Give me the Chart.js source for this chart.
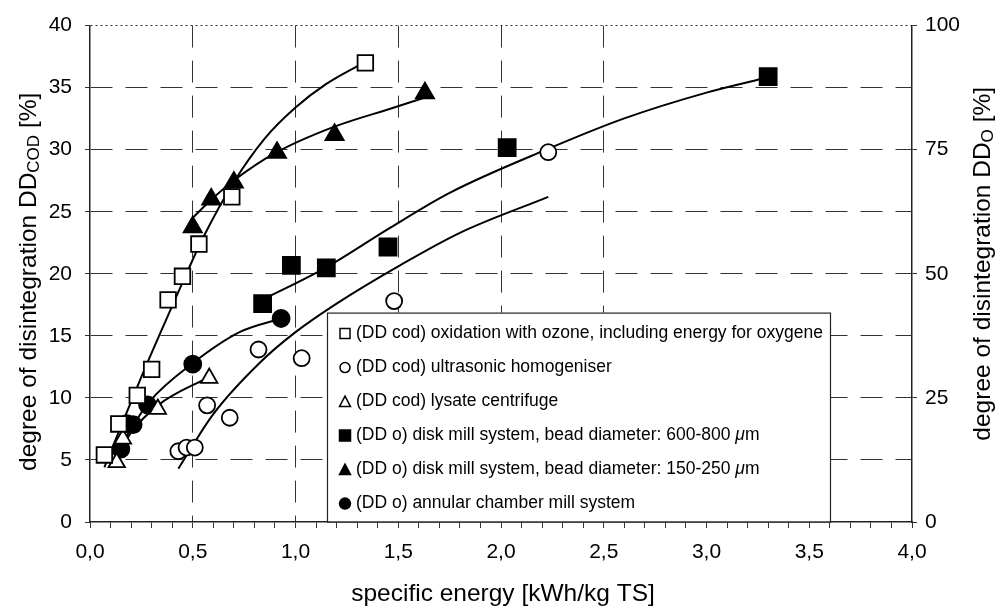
<!DOCTYPE html>
<html>
<head>
<meta charset="utf-8">
<script src="https://cdn.jsdelivr.net/npm/chart.js@4.4.1/dist/chart.umd.min.js"></script>
<style>
  html, body { margin: 0; padding: 0; background: #fff; }
  #wrap { width: 1003px; height: 608px; }
</style>
</head>
<body>
<div id="wrap"><canvas id="chart" width="1003" height="608"></canvas></div>
<script>
// measured points, DD cod series on the left axis [%]
const ozoneX  = [0.07, 0.14, 0.23, 0.30, 0.38, 0.45, 0.53, 0.69, 1.34];
const ozoneY  = [5.4, 7.9, 10.2, 12.3, 17.9, 19.8, 22.4, 26.2, 37.0];
const ultraX  = [0.43, 0.47, 0.51, 0.57, 0.68, 0.82, 1.03, 1.48, 2.23];
const ultraY  = [5.7, 6.0, 6.0, 9.4, 8.4, 13.9, 13.2, 17.8, 29.8];
const lysateX = [0.13, 0.16, 0.33, 0.58];
const lysateY = [4.8, 6.7, 9.1, 11.6];

// DD o series on the right axis [%]
const disk600X = [0.84, 0.98, 1.15, 1.45, 2.03, 3.30];
const disk600Y = [44.0, 51.7, 51.2, 55.4, 75.4, 89.7];
const disk150X = [0.50, 0.59, 0.70, 0.91, 1.19, 1.63];
const disk150Y = [59.4, 65.0, 68.4, 74.4, 78.0, 86.4];
const annularX = [0.15, 0.18, 0.21, 0.28, 0.50, 0.93];
const annularY = [14.7, 19.8, 19.6, 23.6, 31.8, 41.0];

// trend curves
const ozoneFitX  = [0.07, 0.24, 0.36, 0.48, 0.55, 0.70, 0.85, 1.00, 1.15, 1.33];
const ozoneFitY  = [4.4, 11.3, 15.9, 20.4, 22.9, 27.4, 30.9, 33.4, 35.3, 37.0];
const ultraFitX  = [0.43, 0.60, 0.83, 1.00, 1.20, 1.50, 1.80, 2.23];
const ultraFitY  = [4.3, 8.7, 12.9, 15.3, 17.6, 20.6, 23.3, 26.2];
const lysateFitX = [0.12, 0.20, 0.33, 0.58];
const lysateFitY = [5.0, 7.2, 9.4, 11.7];
const disk600FitX = [0.84, 1.15, 1.45, 1.75, 2.22, 2.60, 3.00, 3.30];
const disk600FitY = [44.8, 51.3, 59.0, 66.3, 75.0, 81.3, 86.5, 89.6];
const disk150FitX = [0.50, 0.60, 0.70, 0.90, 1.18, 1.48, 1.63];
const disk150FitY = [61.3, 65.3, 68.8, 74.3, 79.5, 83.5, 85.5];
const annularFitX = [0.13, 0.20, 0.29, 0.50, 0.73, 0.93];
const annularFitY = [14.0, 18.8, 24.3, 32.0, 38.3, 41.0];

const legendNames = [
  '(DD cod) oxidation with ozone, including energy for oxygene',
  '(DD cod) ultrasonic homogeniser',
  '(DD cod) lysate centrifuge',
  '(DD o) disk mill system, bead diameter: 600-800 μm',
  '(DD o) disk mill system, bead diameter: 150-250 μm',
  '(DD o) annular chamber mill system'
];
const legendShapes = ['rect', 'circle', 'triangle', 'rect', 'triangle', 'circle'];
const legendFilled = [false, false, false, true, true, true];

const FONT = '"Liberation Sans", Arial, Helvetica, sans-serif';
const INK = '#000';

function pts(xs, ys) {
  return xs.map((x, i) => ({ x: x, y: ys[i] }));
}

function markers(label, xs, ys, style, filled, r, axis) {
  return {
    label: label,
    data: pts(xs, ys),
    yAxisID: axis,
    showLine: false,
    pointStyle: style,
    pointRadius: r,
    pointHoverRadius: r,
    pointBackgroundColor: filled ? '#000' : '#fff',
    pointBorderColor: '#000',
    pointBorderWidth: 1.8,
    order: 0
  };
}

function curve(xs, ys, axis) {
  return {
    data: pts(xs, ys),
    yAxisID: axis,
    showLine: true,
    borderColor: '#000',
    borderWidth: 2,
    pointRadius: 0,
    cubicInterpolationMode: 'monotone',
    order: 1
  };
}

function fmt(v) {
  return v.toFixed(1).replace('.', ',');
}

// draws a text made of parts (normal / subscript) rotated -90deg or flat
function drawRich(ctx, parts, cx, cy, rotated) {
  ctx.save();
  ctx.translate(cx, cy);
  if (rotated) ctx.rotate(-Math.PI / 2);
  let total = 0;
  parts.forEach(p => {
    ctx.font = p.size + 'px ' + FONT;
    p.w = ctx.measureText(p.text).width;
    total += p.w;
  });
  let x = -total / 2;
  ctx.textBaseline = 'middle';
  ctx.textAlign = 'left';
  ctx.fillStyle = INK;
  parts.forEach(p => {
    ctx.font = p.size + 'px ' + FONT;
    ctx.fillText(p.text, x, p.dy || 0);
    x += p.w;
  });
  ctx.restore();
}

const titles = {
  id: 'titles',
  afterDraw(chart) {
    const ctx = chart.ctx, a = chart.chartArea;
    const mid = (a.top + a.bottom) / 2;
    drawRich(ctx, [
      { text: 'degree of disintegration DD', size: 24.5 },
      { text: 'COD', size: 17, dy: 5 },
      { text: ' [%]', size: 24.5 }
    ], 29, mid + 8, true);
    drawRich(ctx, [
      { text: 'degree of disintegration DD', size: 24.5 },
      { text: 'O', size: 17, dy: 5 },
      { text: ' [%]', size: 24.5 }
    ], 983, mid - 10, true);
    drawRich(ctx, [
      { text: 'specific energy [kWh/kg TS]', size: 24.5 }
    ], (a.left + a.right) / 2 + 2, 594, false);
  }
};

function drawSymbol(ctx, shape, filled, x, y) {
  ctx.save();
  ctx.lineWidth = 1.5;
  ctx.strokeStyle = '#000';
  ctx.fillStyle = filled ? '#000' : '#fff';
  ctx.beginPath();
  if (shape === 'rect') {
    const s = filled ? 11 : 10;
    ctx.rect(x - s / 2, y - s / 2, s, s);
  } else if (shape === 'circle') {
    ctx.arc(x, y, filled ? 5.5 : 5, 0, Math.PI * 2);
  } else {
    const s = 11;
    ctx.moveTo(x, y - s * 0.5);
    ctx.lineTo(x + s / 2, y + s * 0.45);
    ctx.lineTo(x - s / 2, y + s * 0.45);
    ctx.closePath();
  }
  ctx.fill();
  ctx.stroke();
  ctx.restore();
}

const legendBox = {
  id: 'legendBox',
  afterDatasetsDraw(chart) {
    const ctx = chart.ctx, a = chart.chartArea;
    const x0 = a.left + 237, y0 = a.top + 287, w = 503, h = 209;
    ctx.save();
    ctx.fillStyle = '#fff';
    ctx.fillRect(x0, y0, w, h);
    ctx.strokeStyle = '#222';
    ctx.lineWidth = 1.2;
    ctx.strokeRect(x0 + 0.5, y0 + 0.5, w, h);
    ctx.textBaseline = 'middle';
    ctx.fillStyle = INK;
    legendNames.forEach((name, i) => {
      const y = y0 + 21 + i * 34;
      drawSymbol(ctx, legendShapes[i], legendFilled[i], x0 + 18, y);
      let x = x0 + 29;
      const bits = name.split('μ');
      bits.forEach((b, j) => {
        if (j > 0) {
          ctx.font = 'italic 17.5px ' + FONT;
          ctx.fillText('μ', x, y);
          x += ctx.measureText('μ').width;
        }
        ctx.font = '17.5px ' + FONT;
        ctx.fillText(b, x, y);
        x += ctx.measureText(b).width;
      });
    });
    ctx.restore();
  }
};

new Chart(document.getElementById('chart'), {
  type: 'scatter',
  data: {
    datasets: [
      markers(legendNames[0], ozoneX, ozoneY, 'rect', false, 11, 'y'),
      markers(legendNames[1], ultraX, ultraY, 'circle', false, 8, 'y'),
      markers(legendNames[2], lysateX, lysateY, 'triangle', false, 9.5, 'y'),
      markers(legendNames[3], disk600X, disk600Y, 'rect', true, 12, 'y1'),
      markers(legendNames[4], disk150X, disk150Y, 'triangle', true, 10.5, 'y1'),
      markers(legendNames[5], annularX, annularY, 'circle', true, 8.5, 'y1'),
      curve(ozoneFitX, ozoneFitY, 'y'),
      curve(ultraFitX, ultraFitY, 'y'),
      curve(lysateFitX, lysateFitY, 'y'),
      curve(disk600FitX, disk600FitY, 'y1'),
      curve(disk150FitX, disk150FitY, 'y1'),
      curve(annularFitX, annularFitY, 'y1')
    ]
  },
  options: {
    responsive: false,
    animation: false,
    events: [],
    layout: { padding: { top: 22, right: 0, bottom: 0, left: 0 } },
    plugins: {
      legend: { display: false },
      tooltip: { enabled: false }
    },
    scales: {
      x: {
        type: 'linear',
        min: 0,
        max: 4,
        afterFit: s => { s.height = 86; },
        ticks: {
          stepSize: 0.1,
          autoSkip: false,
          maxRotation: 0,
          padding: 12,
          color: INK,
          font: { family: FONT, size: 21 },
          callback: v => (Math.round(v * 10) % 5 === 0 ? fmt(v) : '')
        },
        grid: {
          color: c => {
            const v = c.tick ? c.tick.value : 0;
            return (Math.round(v * 10) % 5 === 0 && v > 0.01 && v < 2.6) ? '#333' : 'rgba(0,0,0,0)';
          },
          tickColor: '#333',
          tickLength: 6,
          lineWidth: 1
        },
        border: { display: true, color: '#222', width: 1.5, dash: [22, 13] }
      },
      y: {
        type: 'linear',
        position: 'left',
        min: 0,
        max: 40,
        afterFit: s => { s.width = 90; },
        ticks: {
          stepSize: 5,
          padding: 13,
          color: INK,
          font: { family: FONT, size: 21 }
        },
        grid: {
          color: c => (c.tick && c.tick.value > 0 ? '#333' : 'rgba(0,0,0,0)'),
          tickColor: '#333',
          tickLength: 5,
          lineWidth: 1
        },
        border: {
          display: true,
          color: '#222',
          width: 1.5,
          dash: c => (c.tick && c.tick.value === 40 ? [2, 3] : [22, 13])
        }
      },
      y1: {
        type: 'linear',
        position: 'right',
        min: 0,
        max: 100,
        afterFit: s => { s.width = 91; },
        ticks: {
          stepSize: 25,
          padding: 8,
          color: INK,
          font: { family: FONT, size: 21 }
        },
        grid: {
          drawOnChartArea: false,
          color: '#333',
          tickLength: 5
        },
        border: { display: true, color: '#222', width: 1.5 }
      }
    }
  },
  plugins: [legendBox, titles]
});
</script>
</body>
</html>
